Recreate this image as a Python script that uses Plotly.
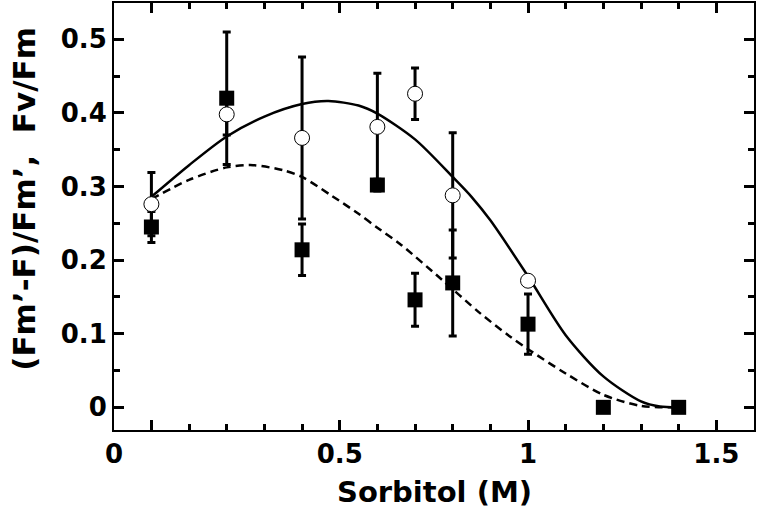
import plotly.graph_objects as go

# ---- data ----
sorbitol = [0.0, 0.2, 0.4, 0.6, 0.7, 0.8, 1.0, 1.2, 1.4]
sq_values = [0.245, 0.420, 0.214, 0.302, 0.146, 0.169, 0.113, 0.0, 0.0]
sq_errors = [0.021, 0.090, 0.035, 0.008, 0.036, 0.072, 0.041, 0.0, 0.0]

circ_x = [0.0, 0.2, 0.4, 0.6, 0.7, 0.8, 1.0]
circ_values = [0.276, 0.398, 0.366, 0.381, 0.426, 0.288, 0.172]
circ_errors = [0.043, 0.028, 0.110, 0.073, 0.035, 0.085, 0.0]

solid_x = [0.0, 0.1, 0.2, 0.3, 0.4, 0.47, 0.55, 0.6, 0.7, 0.8, 0.85, 0.9, 1.0, 1.1, 1.2, 1.3, 1.35, 1.4]
solid_y = [0.286, 0.329, 0.368, 0.395, 0.412, 0.416, 0.410, 0.399, 0.364, 0.313, 0.286, 0.254, 0.178, 0.098, 0.042, 0.008, 0.001, 0.0]

dash_x = [0.0, 0.1, 0.2, 0.27, 0.35, 0.4, 0.48, 0.55, 0.6, 0.66, 0.77, 0.87, 0.95, 1.0, 1.1, 1.2, 1.3, 1.4]
dash_y = [0.283, 0.309, 0.326, 0.329, 0.322, 0.313, 0.287, 0.263, 0.244, 0.222, 0.174, 0.129, 0.097, 0.079, 0.046, 0.017, 0.002, 0.0]

x_tickvals = [-0.099, 0.0, 0.5, 1.0, 1.5]
x_ticktext = ["0", "", "0.5", "1", "1.5"]
y_tickvals = [0.0, 0.1, 0.2, 0.3, 0.4, 0.5]
y_ticktext = ["0", "0.1", "0.2", "0.3", "0.4", "0.5"]

x_title = "Sorbitol (M)"
y_title = "(Fm\u2019-F)/Fm\u2019,\u00a0\u00a0Fv/Fm"

FONT = "DejaVu Sans"

fig = go.Figure()

fig.add_trace(go.Scatter(x=solid_x, y=solid_y, mode="lines", line=dict(color="black", width=2.5, shape="spline", smoothing=0.8), showlegend=False, hoverinfo="skip"))
fig.add_trace(go.Scatter(x=dash_x, y=dash_y, mode="lines", line=dict(color="black", width=2.5, dash="8px,5px", shape="spline", smoothing=0.8), showlegend=False, hoverinfo="skip"))

fig.add_trace(go.Scatter(
    x=sorbitol, y=sq_values, mode="markers",
    marker=dict(symbol="square", size=15, color="black", line=dict(width=0)),
    error_y=dict(type="data", array=sq_errors, visible=True, color="black", thickness=3, width=4),
    showlegend=False))

fig.add_trace(go.Scatter(
    x=circ_x, y=circ_values, mode="markers",
    marker=dict(symbol="circle", size=15, color="white", line=dict(width=1, color="black")),
    error_y=dict(type="data", array=circ_errors, visible=True, color="black", thickness=3, width=4),
    showlegend=False))

fig.update_layout(
    width=759, height=523,
    margin=dict(l=114, r=5, t=3, b=93, autoexpand=False),
    paper_bgcolor="white", plot_bgcolor="white",
    font=dict(family=FONT, color="black"),
)

fig.update_xaxes(
    range=[-0.0993, 1.6], showgrid=False, zeroline=False, automargin=False,
    showline=True, linecolor="black", linewidth=2, mirror="ticks",
    ticks="inside", ticklen=10, tickwidth=2.5, tickcolor="black",
    tickmode="array", tickvals=x_tickvals, ticktext=x_ticktext,
    tickfont=dict(family=FONT, size=26, weight="bold", color="black"),
    minor=dict(ticks="inside", dtick=0.1, tick0=0, ticklen=6, tickwidth=2.5, tickcolor="black", showgrid=False),
)
fig.update_yaxes(
    range=[-0.0308, 0.5493], showgrid=False, zeroline=False, automargin=False,
    showline=True, linecolor="black", linewidth=2, mirror="ticks",
    ticks="inside", ticklen=10, tickwidth=2.5, tickcolor="black",
    tickmode="array", tickvals=y_tickvals, ticktext=y_ticktext,
    tickfont=dict(family=FONT, size=26, weight="bold", color="black"),
    minor=dict(ticks="inside", dtick=0.05, tick0=0, ticklen=6, tickwidth=2.5, tickcolor="black", showgrid=False),
)

fig.add_annotation(text=x_title, xref="paper", yref="paper", x=0.5, y=-0.145, xanchor="center", yanchor="middle",
                   showarrow=False, font=dict(family=FONT, size=29, weight="bold", color="black"))
fig.add_annotation(text=y_title, xref="paper", yref="paper", x=-0.14, y=0.5425, xanchor="center", yanchor="middle",
                   textangle=-90, showarrow=False, font=dict(family=FONT, size=31, weight="bold", color="black"))

fig.write_html("out.html", config={"displayModeBar": False},
               post_script="document.body.style.margin='0';document.body.style.overflow='hidden';")
